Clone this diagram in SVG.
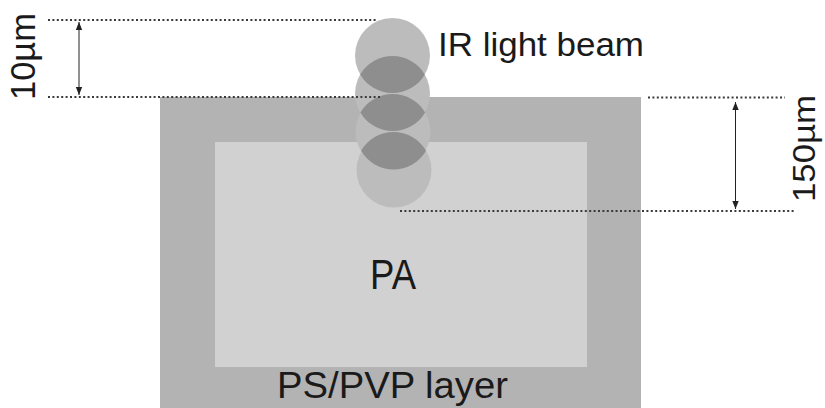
<svg xmlns="http://www.w3.org/2000/svg" width="825" height="408" viewBox="0 0 825 408">
<style>
.t{font-family:"Liberation Sans",Arial,sans-serif;fill:#1a1a1a}
.dot{stroke:#3a3a3a;stroke-width:1.8;stroke-dasharray:2 2.4;fill:none}
.dim{stroke:#222;stroke-width:1;fill:none}
.beam{fill:#bcbcbc}
.lens{fill:#8e8e8e}
</style>
<defs>
<marker id="ah" viewBox="0 0 10 10" refX="10" refY="5" markerWidth="8" markerHeight="8" markerUnits="userSpaceOnUse" orient="auto-start-reverse">
<path d="M0,1 L10,5 L0,9 Z" fill="#222"/>
</marker>
</defs>
<rect width="825" height="408" fill="#fff"/>
<g id="ps-pvp-layer">
<rect x="160" y="97" width="481" height="311" fill="#b3b3b3"/>
<text class="t" x="277" y="398" font-size="36" textLength="231" lengthAdjust="spacingAndGlyphs">PS/PVP layer</text>
</g>
<g id="pa">
<rect x="215" y="142" width="372" height="225" fill="#d1d1d1"/>
<text class="t" x="370" y="289" font-size="42" textLength="46" lengthAdjust="spacingAndGlyphs">PA</text>
</g>
<g id="ir-beam">
<circle class="beam" cx="392.5" cy="55.5" r="37.5"/>
<circle class="beam" cx="392.5" cy="93.5" r="37.5"/>
<circle class="beam" cx="393" cy="131.5" r="37.5"/>
<circle class="beam" cx="394" cy="170" r="37.5"/>
<path class="lens" d="M360.2,74.5 A37.5,37.5 0 0 1 424.8,74.5 A37.5,37.5 0 0 1 360.2,74.5 Z"/>
<path class="lens" d="M360.4,112.5 A37.5,37.5 0 0 1 425.1,112.5 A37.5,37.5 0 0 1 360.4,112.5 Z"/>
<path class="lens" d="M361.1,150.7 A37.5,37.5 0 0 1 426.0,150.7 A37.5,37.5 0 0 1 361.1,150.7 Z"/>
<text class="t" x="438" y="56" font-size="33" textLength="206" lengthAdjust="spacingAndGlyphs">IR light beam</text>
</g>
<g id="connectors">
<line class="dot" x1="48" y1="20" x2="378" y2="20"/>
<line class="dot" x1="48" y1="97" x2="380" y2="97"/>
<line class="dot" x1="648" y1="97.5" x2="785" y2="97.5"/>
<line class="dot" x1="400" y1="211" x2="794" y2="211"/>
<line class="dim" x1="79" y1="22" x2="79" y2="95" marker-start="url(#ah)" marker-end="url(#ah)"/>
<line class="dim" x1="735.5" y1="102" x2="735.5" y2="209" marker-start="url(#ah)" marker-end="url(#ah)"/>
</g>
<g id="dim-10">
<text class="t" transform="translate(35,100) rotate(-90)" font-size="35" textLength="87" lengthAdjust="spacingAndGlyphs">10µm</text>
</g>
<g id="dim-150">
<text class="t" transform="translate(815,202) rotate(-90)" font-size="31" textLength="107" lengthAdjust="spacingAndGlyphs">150µm</text>
</g>
</svg>
